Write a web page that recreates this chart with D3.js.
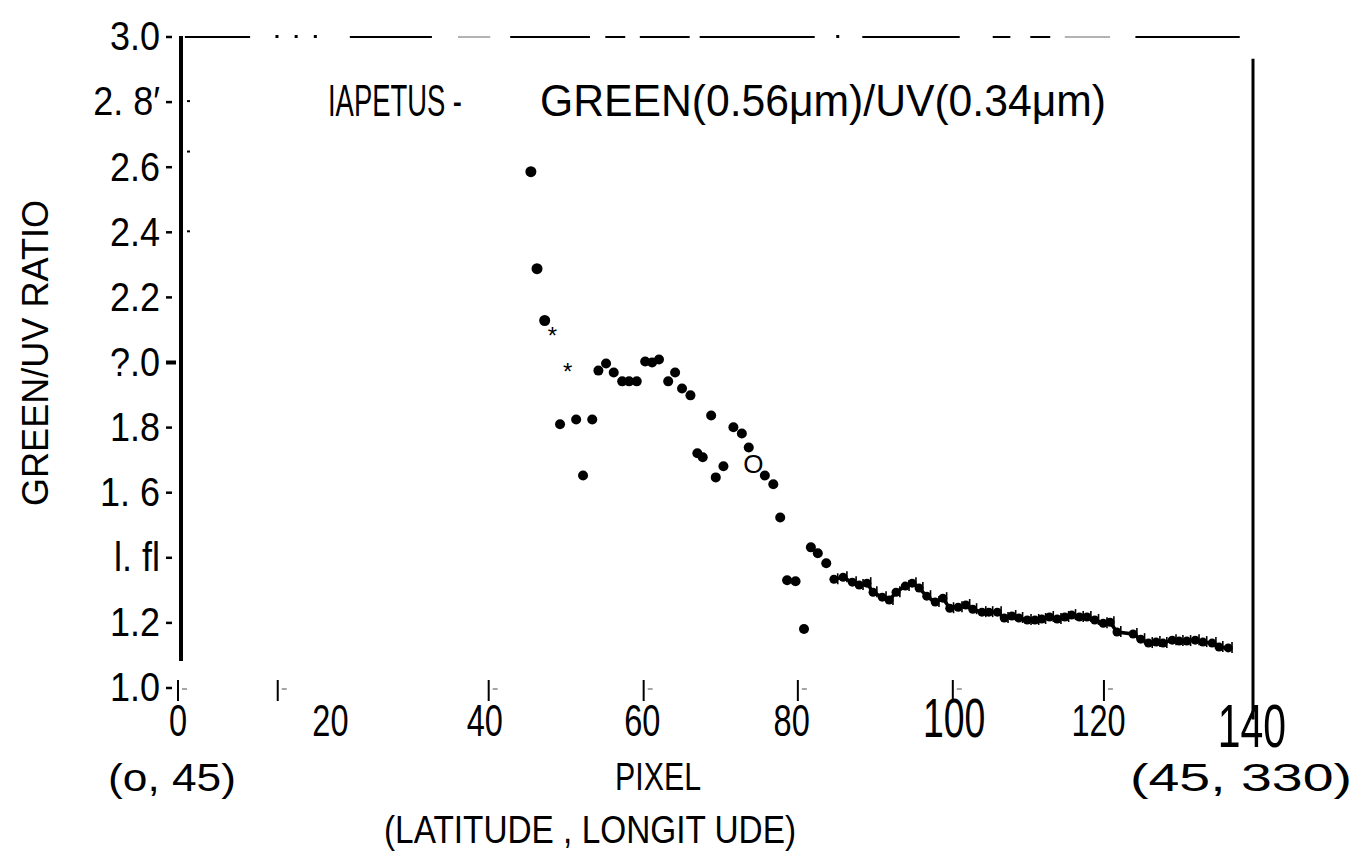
<!DOCTYPE html>
<html><head><meta charset="utf-8">
<script src="https://cdn.jsdelivr.net/npm/d3@7"></script>
<style>
html,body{margin:0;padding:0;background:#fff;}
svg{display:block;}
text{font-family:"Liberation Sans",Arial,sans-serif;fill:#000;}
</style></head>
<body><svg id="c" width="1372" height="853"></svg>
<script>
// ---- data ----
const pixel = [46.0,46.8,47.8,49.8,51.9,52.8,54.0,54.8,55.8,56.8,57.9,58.8,59.8,60.9,61.8,62.7,63.9,64.8,65.7,66.8,67.7,68.4,69.5,70.1,71.1,72.4,73.5,74.4,76.5,77.6,78.5,79.4,80.5,81.6,82.5,83.4,84.5,
  85.5,86.7,87.9,88.8,89.8,90.6,91.8,92.7,93.6,94.8,95.7,96.6,97.6,98.7,99.7,100.6,101.7,102.7,103.6,104.8,105.7,106.8,107.7,108.7,109.6,110.7,111.7,112.6,113.6,114.6,115.6,116.5,117.5,118.5,119.5,120.6,121.5,122.4,124.5,125.5,126.5,127.5,128.4,129.6,130.5,131.5,132.6,133.6,134.8,135.7,136.9];
const ratio = [2.583,2.285,2.126,1.807,1.822,1.650,1.822,1.972,1.994,1.966,1.939,1.939,1.939,2.000,1.997,2.006,1.939,1.966,1.917,1.896,1.718,1.706,1.834,1.644,1.678,1.798,1.779,1.736,1.650,1.623,1.521,1.328,1.325,1.178,1.429,1.411,1.380,
  1.331,1.337,1.322,1.313,1.319,1.291,1.276,1.267,1.291,1.310,1.319,1.304,1.279,1.261,1.273,1.242,1.245,1.252,1.239,1.230,1.230,1.230,1.212,1.218,1.212,1.206,1.206,1.209,1.215,1.209,1.215,1.221,1.215,1.215,1.206,1.196,1.199,1.169,1.163,1.147,1.135,1.138,1.135,1.144,1.141,1.141,1.144,1.138,1.135,1.123,1.120];
const starPixel = [48.8, 50.8];
const starRatio = [2.107, 1.997];
const circlePixel = [75.0];
const circleRatio = [1.687];
const yTickValues = [3.0,2.8,2.6,2.4,2.2,2.0,1.8,1.6,1.4,1.2,1.0];
const yTickLabels = ["3.0","2. 8′","2.6","2.4","2.2","?.0","1.8","1. 6","l. fl","1.2","1.0"];
const xTickValues = [0,20,40,60,80,100,120,140];
const xTickLabels = ["0","20","40","60","80","100","120","140"];
const xTickMarks = [0,13,40.5,60.7,80.8,101,120.7];
const topBorder = [[0.9,9.4],[22.4,33.1],[43.3,53.7],[55.7,58.3],[60.2,66.7],[68.0,83.0],[89.2,101.9],[106.2,108.5],[111.1,113.7],[124.8,138.4]];
const topDots = [12.9,15.4,17.9,86.0];

// ---- drawing ----
const svg = d3.select("#c");
const x = d3.scaleLinear().domain([0,140]).range([178,1252]);
const y = d3.scaleLinear().domain([1,3]).range([687,36]);

// top broken border
svg.append("g").selectAll("line").data(topBorder).join("line")
  .attr("x1",d=>x(d[0])).attr("x2",d=>x(d[1]))
  .attr("y1",y(3)+1).attr("y2",y(3)+1).attr("stroke","#000").attr("stroke-width",2);
svg.append("g").selectAll("rect").data(topDots).join("rect")
  .attr("x",d=>x(d)-1.5).attr("y",y(3)-1).attr("width",3).attr("height",3).attr("fill","#000");
svg.append("line").attr("x1",x(36.5)).attr("x2",x(40.7)).attr("y1",y(3)+1).attr("y2",y(3)+1).attr("stroke","#666").attr("stroke-width",1);
svg.append("line").attr("x1",x(115.6)).attr("x2",x(121.5)).attr("y1",y(3)+1).attr("y2",y(3)+1).attr("stroke","#666").attr("stroke-width",1);

// left thick axis
svg.append("line").attr("x1",x(0)+3).attr("x2",x(0)+3).attr("y1",y(3)).attr("y2",y(1.08))
  .attr("stroke","#000").attr("stroke-width",4);
// right axis
svg.append("line").attr("x1",x(140)+1).attr("x2",x(140)+1).attr("y1",y(2.93)).attr("y2",y(0.9))
  .attr("stroke","#000").attr("stroke-width",3);

// y tick labels
const yg = svg.append("g");
yg.selectAll("text").data(yTickValues).join("text")
  .attr("x",160).attr("y",d=>y(d)).attr("dy","0.36em")
  .attr("text-anchor","end").attr("font-size",40)
  .attr("transform",d=>`translate(160,0) scale(0.9,1) translate(-160,0)`)
  .text((d,i)=>yTickLabels[i]);
yg.selectAll("line").data(yTickValues).join("line")
  .attr("x1",166).attr("x2",d=>d===2.0?176:172).attr("y1",d=>y(d)+1).attr("y2",d=>y(d)+1)
  .attr("stroke","#000").attr("stroke-width",d=>d===2.0?4:2.5);
// minor inside marks
svg.append("g").selectAll("rect").data([2.8,2.6,2.4]).join("rect")
  .attr("x",x(0)+9).attr("y",d=>y(d+ (d===2.6?0.045:0))-1).attr("width",3).attr("height",2).attr("fill","#000");

// x tick marks
const xm = svg.append("g");
xm.selectAll("line.v").data(xTickMarks).join("line").attr("class","v")
  .attr("x1",d=>x(d)).attr("x2",d=>x(d)).attr("y1",y(1.0)-7).attr("y2",y(1.0)+14)
  .attr("stroke","#000").attr("stroke-width",2);
xm.selectAll("line.h").data(xTickMarks).join("line").attr("class","h")
  .attr("x1",d=>x(d)+4).attr("x2",d=>x(d)+9).attr("y1",y(1.0)+2).attr("y2",y(1.0)+2)
  .attr("stroke","#888").attr("stroke-width",1.5);

// x tick labels
const big = d=>d===100||d===140;
const xoff = d=>(d===20?-1:0)+(d===60?4:0)+(d===100?9:0);
svg.append("g").selectAll("text").data(xTickValues).join("text")
  .attr("x",d=>x(d)+xoff(d))
  .attr("y",d=>d===140?747:(d===100?737:736))
  .attr("text-anchor","middle")
  .attr("font-size",d=>d===140?62:(d===100?55:44))
  .attr("transform",d=>{const cx=x(d)+xoff(d);const s=d===140?0.66:(d===100?0.68:0.74);return `translate(${cx},0) scale(${s},1) translate(${-cx},0)`;})
  .text((d,i)=>xTickLabels[i]);

// title
svg.append("text").attr("x",328).attr("y",116).attr("font-size",44)
  .attr("textLength",134).attr("lengthAdjust","spacingAndGlyphs").text("IAPETUS -");
svg.append("text").attr("x",540).attr("y",116).attr("font-size",44)
  .attr("textLength",566).attr("lengthAdjust","spacingAndGlyphs").text("GREEN(0.56μm)/UV(0.34μm)");

// y axis title
svg.append("text").attr("transform","translate(48,353) rotate(-90)")
  .attr("text-anchor","middle").attr("font-size",36)
  .attr("textLength",306).attr("lengthAdjust","spacingAndGlyphs").text("GREEN/UV RATIO");

// bottom texts
svg.append("text").attr("x",108).attr("y",791).attr("font-size",38)
  .attr("textLength",128).attr("lengthAdjust","spacingAndGlyphs").text("(o, 45)");
svg.append("text").attr("x",658).attr("y",790).attr("font-size",38).attr("text-anchor","middle")
  .attr("textLength",86).attr("lengthAdjust","spacingAndGlyphs").text("PIXEL");
svg.append("text").attr("x",590).attr("y",843).attr("font-size",38).attr("text-anchor","middle")
  .attr("textLength",412).attr("lengthAdjust","spacingAndGlyphs").text("(LATITUDE , LONGIT UDE)");
svg.append("text").attr("x",1130).attr("y",791).attr("font-size",38)
  .attr("textLength",222).attr("lengthAdjust","spacingAndGlyphs").text("(45, 330)");

// data
const pts = pixel.map((p,i)=>({p, r:ratio[i]}));
const dense = pts.filter(d=>d.p>=85);
svg.append("path").datum(dense)
  .attr("d", d3.line().x(d=>x(d.p)).y(d=>y(d.r)))
  .attr("fill","none").attr("stroke","#000").attr("stroke-width",3.5);
svg.append("g").selectAll("circle").data(pts).join("circle")
  .attr("cx",d=>x(d.p)).attr("cy",d=>y(d.r))
  .attr("r",d=>d.p<48?5.5:(d.p<85?5:4.5)).attr("fill","#000");
// small crosses on dense points
const cg = svg.append("g").attr("stroke","#000").attr("stroke-width",1.6);
cg.selectAll("line").data(dense).join("line")
  .attr("x1",d=>x(d.p)+3.8).attr("x2",d=>x(d.p)+3.8).attr("y1",d=>y(d.r)-6).attr("y2",d=>y(d.r)+5);

// star markers
svg.append("g").selectAll("text").data(starPixel).join("text")
  .attr("x",d=>x(d)).attr("y",(d,i)=>y(starRatio[i])).attr("dy","0.72em")
  .attr("text-anchor","middle").attr("font-size",24).text("*");
// circle marker
svg.append("g").selectAll("text").data(circlePixel).join("text")
  .attr("x",d=>x(d)).attr("y",(d,i)=>y(circleRatio[i])).attr("dy","0.36em")
  .attr("text-anchor","middle").attr("font-size",26).text("O");
</script></body></html>
